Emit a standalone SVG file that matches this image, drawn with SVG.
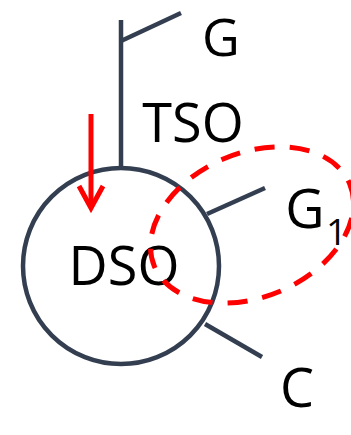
<svg xmlns="http://www.w3.org/2000/svg" width="351" height="435" viewBox="0 0 351 435">
<style>
.ln{stroke:#333F50;stroke-width:4.5;fill:none}
.lbl{font-family:"Open Sans","Liberation Sans",sans-serif;font-size:54px;fill:#000;text-anchor:middle}
.red{stroke:#FF0000;stroke-width:5;fill:none}
</style>
<rect width="351" height="435" fill="#fff"/>
<g id="connectors">
<line class="ln" x1="121" y1="20" x2="121" y2="168"/>
<line class="ln" x1="121" y1="41" x2="181" y2="13"/>
<line class="ln" x1="207" y1="214" x2="265" y2="188"/>
<line class="ln" x1="205" y1="324" x2="262" y2="357"/>
</g>
<g id="DSO">
<circle class="ln" cx="121" cy="266" r="98"/>
<text class="lbl" x="124" y="285">DSO</text>
</g>
<g id="TSO"><text class="lbl" x="193" y="142">TSO</text></g>
<g id="G"><text class="lbl" x="221" y="55.5" style="font-size:52px">G</text></g>
<g id="G1"><text class="lbl" x="305" y="228">G</text><text x="326" y="245" style="font-family:'Open Sans','Liberation Sans',sans-serif;font-size:37px">1</text></g>
<g id="C"><text class="lbl" x="297" y="407">C</text></g>
<g id="highlight">
<ellipse class="red" cx="252" cy="225" rx="106" ry="72" transform="rotate(-23 252 225)" stroke-dasharray="20 15"/>
<line class="red" x1="91" y1="114" x2="91" y2="206"/>
<polyline class="red" points="79,186 91,208 103,186"/>
</g>
</svg>
